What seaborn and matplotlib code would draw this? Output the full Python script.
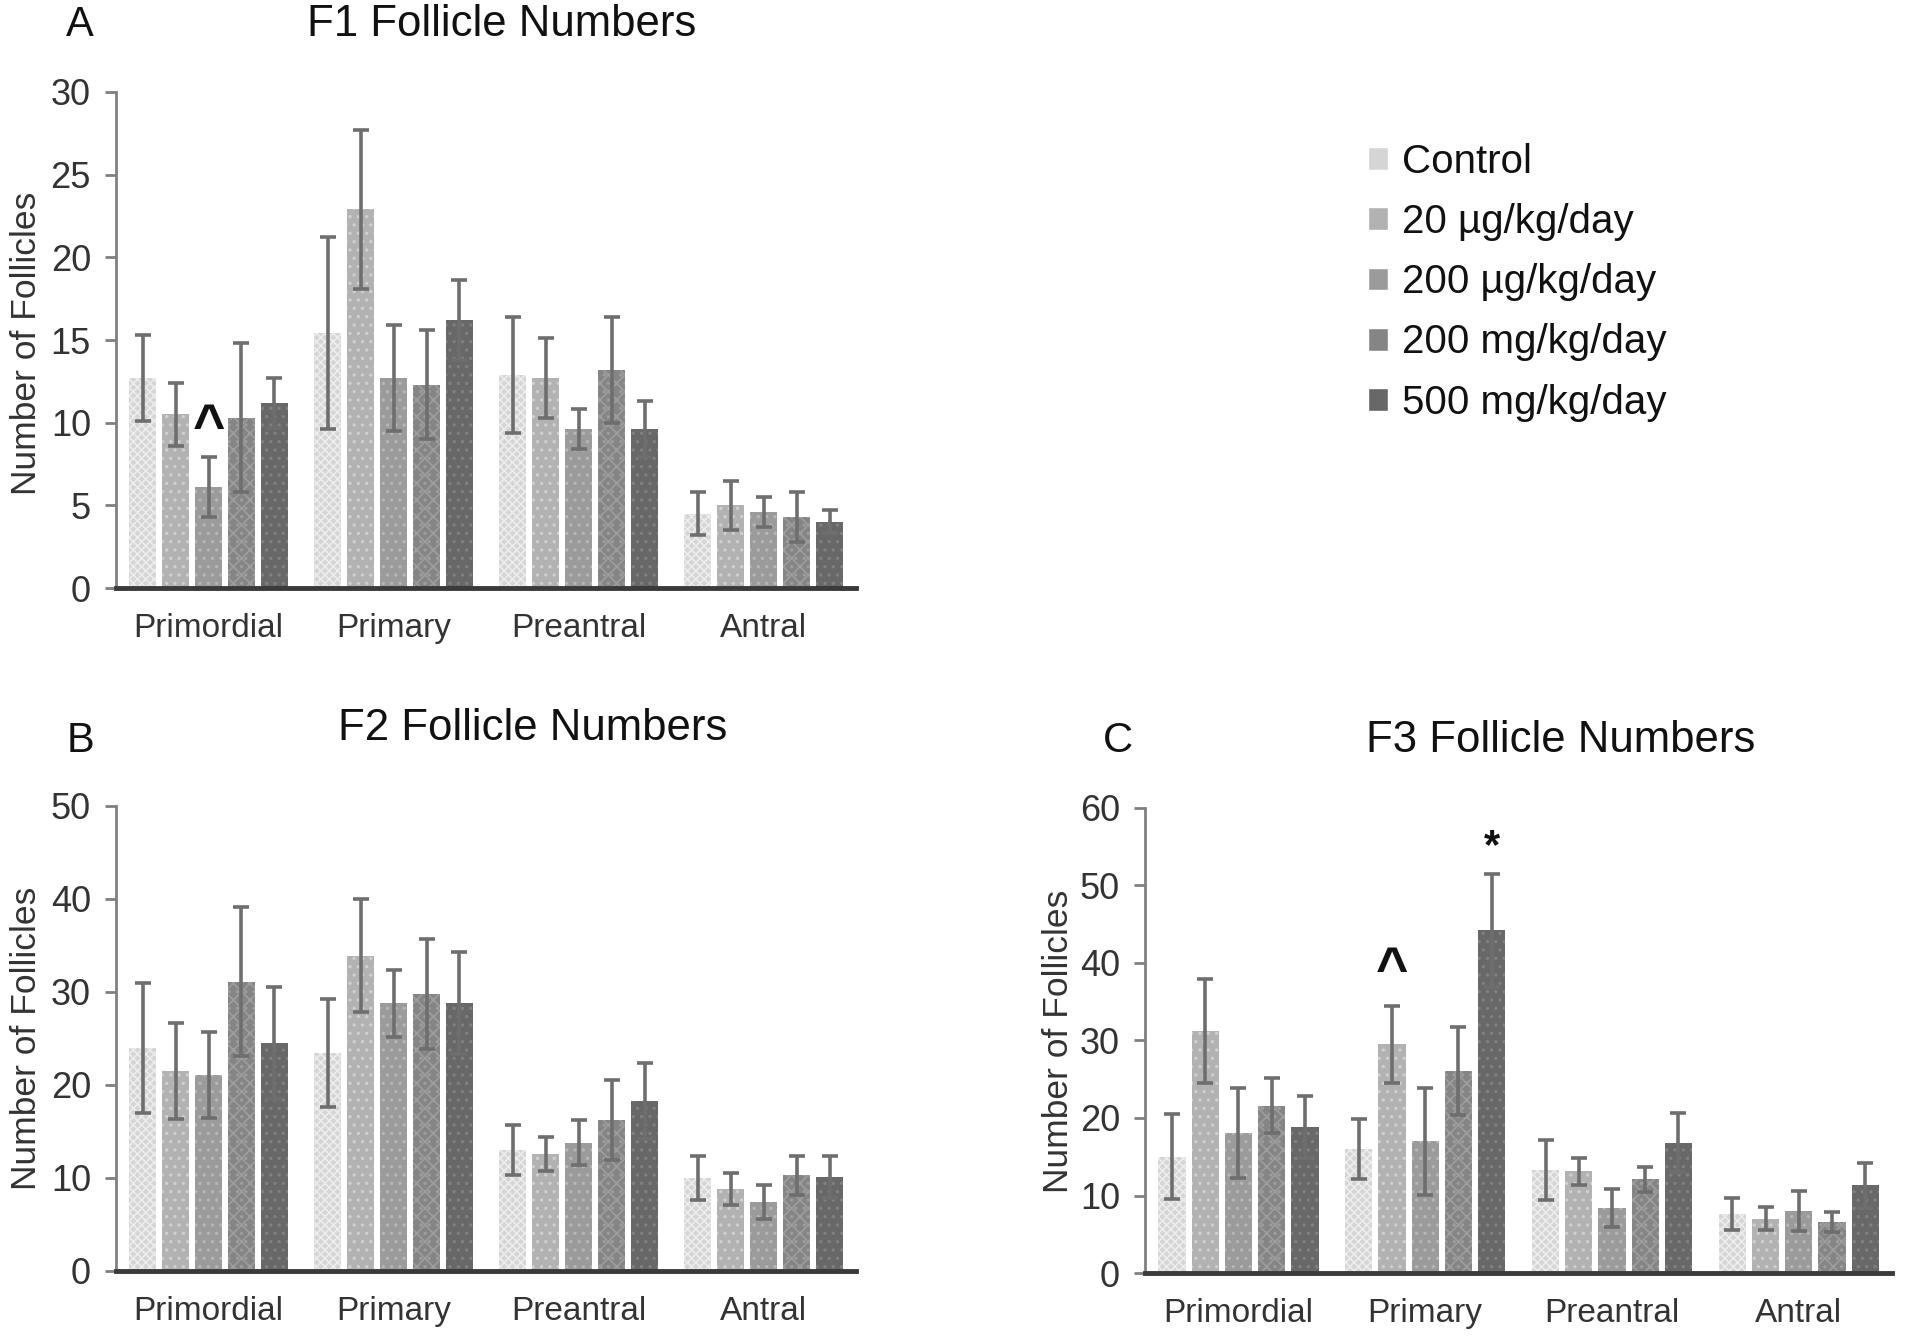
import numpy as np
import pandas as pd
import matplotlib
matplotlib.use("Agg")
import matplotlib.pyplot as plt
import seaborn as sns

sns.set_theme(style="white")

REG = ['Liberation Sans', 'DejaVu Sans']
plt.rcParams['font.family'] = REG
plt.rcParams['hatch.linewidth'] = 1.2

stages = ["Primordial", "Primary", "Preantral", "Antral"]
groups = ["Control", "20 µg/kg/day", "200 µg/kg/day", "200 mg/kg/day", "500 mg/kg/day"]

# F1 means / SE (rows = groups, columns = stages)
f1_control = [12.7, 15.4, 12.9, 4.5]
f1_20ug = [10.5, 22.9, 12.7, 5.0]
f1_200ug = [6.1, 12.7, 9.6, 4.6]
f1_200mg = [10.3, 12.3, 13.2, 4.3]
f1_500mg = [11.2, 16.2, 9.6, 4.0]
f1_control_se = [2.6, 5.8, 3.5, 1.3]
f1_20ug_se = [1.9, 4.8, 2.4, 1.5]
f1_200ug_se = [1.8, 3.2, 1.2, 0.9]
f1_200mg_se = [4.5, 3.3, 3.2, 1.5]
f1_500mg_se = [1.5, 2.4, 1.7, 0.7]

# F2
f2_control = [24.0, 23.4, 13.0, 10.0]
f2_20ug = [21.5, 33.9, 12.6, 8.8]
f2_200ug = [21.1, 28.8, 13.8, 7.4]
f2_200mg = [31.1, 29.8, 16.2, 10.3]
f2_500mg = [24.5, 28.8, 18.3, 10.1]
f2_control_se = [7.0, 5.8, 2.7, 2.4]
f2_20ug_se = [5.2, 6.1, 1.8, 1.7]
f2_200ug_se = [4.6, 3.6, 2.4, 1.8]
f2_200mg_se = [8.0, 5.9, 4.3, 2.1]
f2_500mg_se = [6.0, 5.5, 4.1, 2.3]

# F3
f3_control = [15.0, 16.0, 13.3, 7.6]
f3_20ug = [31.2, 29.5, 13.1, 7.0]
f3_200ug = [18.1, 17.0, 8.4, 8.0]
f3_200mg = [21.6, 26.1, 12.1, 6.6]
f3_500mg = [18.8, 44.2, 16.8, 11.3]
f3_control_se = [5.5, 3.9, 3.9, 2.1]
f3_20ug_se = [6.7, 5.0, 1.8, 1.5]
f3_200ug_se = [5.8, 6.9, 2.4, 2.6]
f3_200mg_se = [3.5, 5.7, 1.6, 1.3]
f3_500mg_se = [4.0, 7.3, 3.8, 2.9]

palette = ['#d5d5d5', '#b2b2b2', '#9b9b9b', '#858585', '#686868']
hatch_cols = ['#ececec', '#cfcfcf', '#b5b5b5', '#9d9d9d', '#808080']
hatches = ['xxxx', '..', '..', 'xx..', '..']


def make_df(means, ses):
    rows = []
    for g, m_list, s_list in zip(groups, means, ses):
        for st, m, s in zip(stages, m_list, s_list):
            rows.append({"stage": st, "group": g, "mean": m, "se": s})
    return pd.DataFrame(rows)


panels = [
    dict(df=make_df([f1_control, f1_20ug, f1_200ug, f1_200mg, f1_500mg],
                    [f1_control_se, f1_20ug_se, f1_200ug_se, f1_200mg_se, f1_500mg_se]),
         rect=[0.0604, 0.5615, 0.3856, 0.3699], ymax=30, step=5,
         title="F1 Follicle Numbers", tpos=(502, 25), letter="A", lpos=(80, 25), ylpos=(27, 343),
         marks=[("Primordial", "200 µg/kg/day", "^", 9.6)]),
    dict(df=make_df([f2_control, f2_20ug, f2_200ug, f2_200mg, f2_500mg],
                    [f2_control_se, f2_20ug_se, f2_200ug_se, f2_200mg_se, f2_500mg_se]),
         rect=[0.0604, 0.0522, 0.3856, 0.3468], ymax=50, step=10,
         title="F2 Follicle Numbers", tpos=(533, 729), letter="B", lpos=(80, 741), ylpos=(27, 1038),
         marks=[]),
    dict(df=make_df([f3_control, f3_20ug, f3_200ug, f3_200mg, f3_500mg],
                    [f3_control_se, f3_20ug_se, f3_200ug_se, f3_200mg_se, f3_500mg_se]),
         rect=[0.5964, 0.0507, 0.3891, 0.3468], ymax=60, step=10,
         title="F3 Follicle Numbers", tpos=(1561, 741), letter="C", lpos=(1118, 741), ylpos=(1059, 1041),
         marks=[("Primary", "20 µg/kg/day", "^", 38.8), ("Primary", "500 mg/kg/day", "*", 55.0)]),
]

W, H = 1920, 1341
fig = plt.figure(figsize=(W / 100, H / 100), dpi=100)
fig.patch.set_facecolor('white')

legend_handles = None
for p in panels:
    ax = fig.add_axes(p["rect"])
    df = p["df"]
    sns.barplot(data=df, x="stage", y="mean", hue="group", order=stages, hue_order=groups,
                palette=palette, errorbar=None, width=0.89, gap=0.18, saturation=1, ax=ax)
    bar_conts = list(ax.containers)
    for i, cont in enumerate(bar_conts):
        sub = df[df["group"] == groups[i]].set_index("stage").loc[stages]
        xs = [b.get_x() + b.get_width() / 2 for b in cont.patches]
        for b in cont.patches:
            b.set_hatch(hatches[i])
            b.set_edgecolor(hatch_cols[i])
            b.set_linewidth(0)
        ax.errorbar(xs, sub["mean"].values, yerr=sub["se"].values, fmt='none',
                    ecolor='#6e6e6e', elinewidth=2.6, capsize=6, capthick=2.6, zorder=5)
    for st, g, sym, yv in p["marks"]:
        ci = groups.index(g)
        bar = bar_conts[ci].patches[stages.index(st)]
        ax.text(bar.get_x() + bar.get_width() / 2, yv, sym, ha='center', va='center',
                fontsize=40 if sym == "^" else 30, fontweight='bold', color='#111111', family=REG)
    if legend_handles is None:
        legend_handles, legend_labels = ax.get_legend_handles_labels()
    if ax.get_legend() is not None:
        ax.get_legend().remove()
    ax.set_xlim(-0.5, 3.5)
    ax.set_ylim(0, p["ymax"])
    ax.set_yticks(np.arange(0, p["ymax"] + 1, p["step"]))
    ax.set_xlabel("")
    ax.set_ylabel("")
    for s in ["top", "right"]:
        ax.spines[s].set_visible(False)
    ax.spines["left"].set_color('#808080')
    ax.spines["left"].set_linewidth(2)
    ax.spines["bottom"].set_color('#3a3a3a')
    ax.spines["bottom"].set_linewidth(3.5)
    ax.spines["bottom"].set_zorder(6)
    ax.tick_params(axis='y', left=True, length=8, width=2, color='#808080', pad=10,
                   labelsize=26, labelcolor='#333333')
    ax.tick_params(axis='x', bottom=False, length=0, pad=18, labelsize=24, labelcolor='#333333')
    ax.grid(False)
    ax.set_facecolor('white')

    fig.text(p["tpos"][0] / W, 1 - p["tpos"][1] / H, p["title"], ha='center', va='center',
             fontsize=31.5, color='#111111', family=REG)
    fig.text(p["lpos"][0] / W, 1 - p["lpos"][1] / H, p["letter"], ha='center', va='center',
             fontsize=30, color='#111111', family=REG)
    fig.text(p["ylpos"][0] / W, 1 - p["ylpos"][1] / H, "Number of Follicles", rotation=90,
             ha='center', va='center', fontsize=25.5, color='#333333', family=REG)

leg = fig.legend(legend_handles, legend_labels, loc='upper left',
                 bbox_to_anchor=(1368 / W, 1 - 143 / H), frameon=False,
                 handlelength=0.5, handleheight=0.5, handletextpad=0.35,
                 labelspacing=0.55, borderpad=0, borderaxespad=0,
                 prop={'family': REG, 'size': 29})
for t in leg.get_texts():
    t.set_color('#111111')

fig.savefig("out.png", dpi=100, facecolor='white')
